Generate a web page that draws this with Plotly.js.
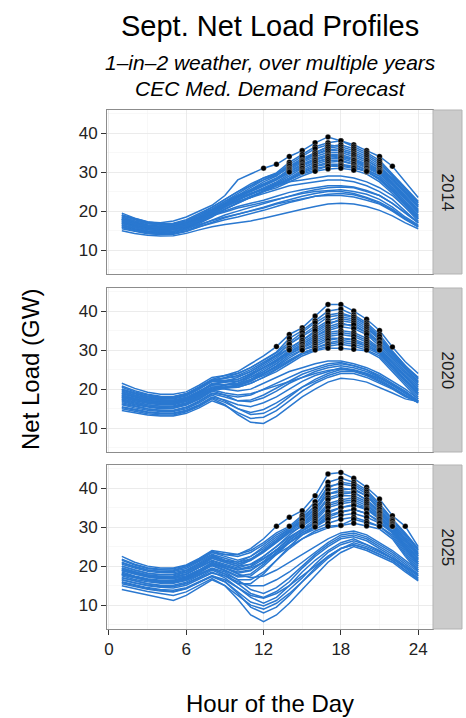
<!DOCTYPE html>
<html>
<head>
<meta charset="utf-8">
<script src="https://cdn.plot.ly/plotly-3.0.1.min.js"></script>
<style>html,body{margin:0;padding:0;background:#fff;}#chart{width:466px;height:718px;}</style>
</head>
<body>
<div id="chart"></div>
<script>
// Hour of the day (x values)
const hours = [1,2,3,4,5,6,7,8,9,10,11,12,13,14,15,16,17,18,19,20,21,22,23,24];

// Facet labels
const years = ["2014", "2020", "2025"];

// Net load (GW) daily profiles, 2014
const load2014 = [
  [19,18,17.2,17,17.5,18.5,20,21.5,24,28,29.5,31,32,34,35.5,37.5,39,38,37,35.5,34,31.5,27.5,23.5],
  [18.5,17.5,16.8,16.5,16.8,17.5,19,20.5,22.5,24.5,26.5,28.5,29.8,32.5,34.5,36.5,37.5,38,36.5,35,33,29.5,26,22.5],
  [18.8,17.8,17,16.7,16.9,17.8,19.3,21,23,25,27,28.5,29.6,31.5,33.5,35,36.5,37,36,34.5,32.5,29.2,25.8,22.2],
  [18,17,16.3,16,16.2,17,18.5,20,22,24,26,28,29.5,32,34,36,37,36.5,35.5,34,32,29,25.5,22],
  [17.5,16.5,15.8,15.5,15.8,16.5,18,20,22,24,25.5,27.5,29,31.5,33,35,36.5,36,35,33.5,31.5,28.5,25,21.5],
  [19.5,18.2,17.3,16.8,16.8,17.5,19,21,23,25,26.5,28,29.2,31,33,34.5,36,35.5,34.5,33,31,28.5,25,21.5],
  [17.2,16.3,15.6,15.3,15.5,16.3,17.8,19.8,21.8,23.8,25.2,26.8,28.2,30.8,32.8,34.5,35.5,35.5,34.5,33,31,28.2,24.8,21.2],
  [17,16,15.3,15,15.2,16,17.5,19.5,21.5,23.5,25.5,27,28.5,30.5,32.5,34,35,35,34,32.5,30.5,28,24.5,21],
  [18,17,16.2,15.8,16,16.8,18.2,20,22,23.5,25,26.5,28,30.2,32,33.5,34.5,34.5,33.5,32,30.5,27.5,24,20.5],
  [18.2,17.2,16.5,16.1,16.3,17.1,18.6,20.3,22.2,23.8,25.3,26.8,28.2,30,31.8,33.2,34.2,34.2,33.2,31.8,30.2,27.2,23.8,20.2],
  [16.5,15.5,14.8,14.5,14.8,15.7,17.2,19,21,23,24.5,26,27.5,29.5,31.5,33,34,34,33,31.5,30,27,23.5,20],
  [16.8,16,15.3,15,15.2,16,17.4,19.2,21.2,22.8,24.2,25.8,27.2,29,31,32.5,33.5,33.8,33,31.2,29.8,26.8,23.2,19.8],
  [19,17.8,17,16.5,16.5,17.2,18.5,20.5,22.5,24,25,26.5,28,29.8,31,32.5,33.5,33.5,32.5,31,29.5,26.5,23,19.5],
  [17.5,16.5,15.8,15.5,15.6,16.3,17.8,19.5,21.5,23,24.5,25.5,27,28.5,30.5,32,33,33,32,30.5,29,26,22.5,19],
  [17.8,16.9,16.2,15.9,16,16.7,18,19.8,21.5,23,24.3,25.5,26.8,28.2,30.2,31.5,32.5,32.8,32,30.5,29,26,22.3,18.8],
  [16,15.2,14.6,14.3,14.5,15.3,16.8,18.5,20.5,22,23.5,25,26.5,28,30,31.5,32,32,31.5,30,28.5,25.5,22,18.5],
  [16.3,15.5,14.9,14.6,14.8,15.6,17,18.8,20.6,22.2,23.8,25.3,26.6,28,29.8,31,31.5,31.8,31.2,30.2,28.2,25.2,21.8,18.2],
  [18.5,17.5,16.8,16.4,16.5,17.2,18.5,20,21.5,22.5,23.5,25,26.5,28,29.5,30.5,31.5,31.5,31,30.2,28,25,21.5,18],
  [17,16.2,15.5,15.2,15.3,16,17.5,19,20.5,22,23.5,25,26,27.5,29,30.2,30.8,31,30.5,29.5,27.5,24.5,21,17.5],
  [17,16,15.4,15,15.2,16,17.5,19.5,21.5,23.5,24.5,25.5,26.5,27.5,28,28.5,29,29,28.5,27.5,26,24,21,18],
  [18,17,16.3,16,16,16.8,18,19.5,21,22.5,23.5,24.5,25.5,26.5,27,27.5,28,28,27.5,26.5,25,23,20,17],
  [17.8,16.9,16.2,15.8,15.9,16.6,17.8,19,20.2,21.2,22,22.8,23.8,24.8,25.5,26,26.5,26.5,26.2,25.3,24,22,19.5,17.2],
  [16,15.2,14.5,14.2,14.3,15,16.3,17.8,19,20,21,22,23,24,24.8,25.5,26,26.2,26,25,24,22,19.5,17],
  [17.5,16.6,16,15.6,15.6,16.2,17.5,18.8,19.8,20.8,21.5,22.2,23,23.8,24.5,25,25.3,25.5,25,24.3,23,21,18.5,16.5],
  [15.5,14.8,14.2,14,14.1,14.8,16,17.2,18.3,19.2,20,21,22,23,23.8,24.5,25,25,24.5,23.5,22.3,20.5,18.2,16.2],
  [15.8,15,14.4,14.1,14.2,14.9,16,17,17.8,18.5,19.3,20.2,21.2,22.2,23,23.8,24.3,24.5,24.2,23.3,22,20.2,18,16],
  [16.5,15.7,15,14.7,14.8,15.5,16.6,17.6,18.5,19.2,20,20.8,21.8,22.5,23.2,23.8,24,24,23.6,22.8,21.8,20,17.8,16],
  [15,14.3,13.8,13.6,13.7,14.3,15.2,16,16.6,17,17.5,18.2,19,19.8,20.5,21.2,21.8,22,21.8,21.2,20.2,18.8,17,15.5]
];

// Net load (GW) daily profiles, 2020
const load2020 = [
  [20,19,18.2,17.8,18,18.8,20.5,22.5,23.5,24.5,26.5,28.5,30.9,34,35.7,38.7,41.7,41.7,40,37.9,35,30.8,27,24],
  [19.5,18.5,17.8,17.4,17.5,18.3,20,22,23,24,25.5,27.5,29.5,33,35,37.5,40,40.5,39,37,34,29.8,26,23],
  [21.5,20.2,19.2,18.7,18.7,19.3,21,23,23.5,24,25.5,27.5,29.3,32,34.5,37,39,39.5,38.5,36.5,33,29.5,26,22.5],
  [19.8,18.8,18,17.6,17.7,18.5,20.2,22.2,22.8,23.5,25,27,28.8,31.5,33.8,36,38.5,39,38.5,36.5,33.5,29.3,25.8,22.8],
  [18.5,17.5,16.8,16.5,16.6,17.4,19,21,22,23,24.5,26.5,28.5,31.5,33.5,35.5,37.5,38.5,38,36,32.5,29,25.5,22],
  [18.8,17.9,17.1,16.7,16.8,17.6,19.2,21.2,21.8,22.5,24,26,28,30.5,32.5,34.5,36.5,38,37.5,35.5,32.8,28.8,25.2,21.8],
  [20.5,19.3,18.5,18,18,18.8,20.5,22.5,22.8,23.2,24.5,26.5,28.5,30.5,32.5,35,37,37.5,37,35,32,28.5,25,21.5],
  [17.5,16.7,16,15.6,15.7,16.5,18,20,21,22,23.5,25.5,27.5,30,32,34,36,37,36,34.5,31.5,28,24.5,21],
  [20.8,19.6,18.7,18.2,18.1,18.8,20.5,22.3,22.3,22.5,23.8,25.5,27.2,29.5,31.5,33.5,35.5,36.5,36.5,34.5,31.8,28,24.5,21],
  [19,18,17.2,16.8,16.8,17.6,19.3,21.5,21.8,22,23.5,25.5,27.5,29.5,31.5,33.5,35,36,35.5,34,31,27.5,24,20.5],
  [18,17.2,16.5,16.2,16.2,17,18.5,20.5,21,21.5,23,25,27,29.5,31,33,34.5,35,34.5,33,30.5,27,23.5,20],
  [17.2,16.4,15.7,15.3,15.4,16.2,17.7,19.8,20.5,21,22.5,24.5,26.5,29,30.8,32.5,34,34.5,34,32.5,30.2,26.8,23.2,19.8],
  [20,19,18.2,17.7,17.6,18.3,20,22,22,22,23,24.5,26.5,29,30.5,32,33.5,34,33.5,32,30,26.5,23,19.5],
  [16.8,16,15.4,15,15.1,15.9,17.4,19.5,20.2,20.8,22,24,26,28.5,30,31.5,33,33,32.5,31,29.5,26,22.5,19],
  [18.2,17.4,16.7,16.3,16.3,17.1,18.6,20.3,20.6,21,22,23.8,25.8,28,30,31,32.5,33,32.8,31.5,29.7,26,22.3,19],
  [19.3,18.4,17.6,17.2,17.2,17.9,19.5,21.2,21.2,21.2,22.2,23.5,25.2,27.2,29.2,30.5,31.8,32.5,32,31,29.2,25.8,22.2,18.8],
  [19,18.1,17.4,17,17,17.8,19.3,21,21.2,21.5,22.5,24,25.5,27.5,29.3,30.5,31.5,32,31.5,30.5,29,25.5,22,18.5],
  [17.8,17,16.4,16,16,16.8,18.3,20,20.2,20.5,21.5,23,25,27,29,30,31,31.5,31,30,28.5,25,21.5,18],
  [18.5,17.6,16.9,16.5,16.5,17.3,18.8,20.5,20.5,20.5,21.5,23,24.5,26.5,28.5,29.8,30.5,30.5,30.2,29.8,28,24.5,21,17.5],
  [18,17.2,16.5,16.2,16.2,17,18.5,20.5,20,19.5,20,21.5,23,24.5,25.5,26.5,27.2,27.2,26.5,25.5,24,22,20,17.5],
  [16.5,15.7,15,14.6,14.6,15.4,17,19,18.5,18,18.5,20,21.5,23,24.5,25.5,26.5,26.8,26,25,23.5,21.5,19.5,17],
  [16.2,15.5,14.9,14.5,14.5,15.3,16.8,18.8,18,17,17.2,18.5,20.2,22,23.8,25,26,26.5,26,25,23.2,21.2,19.2,17],
  [17,16.2,15.6,15.2,15.2,16,17.6,19.5,18.5,17,16.8,17.8,19.5,21.5,23,24.5,25.5,26,25.5,24.5,23,21,19,16.8],
  [15.5,14.8,14.2,13.9,13.9,14.6,16,18,17.2,16,15.5,16.5,18,20,22,23.5,24.5,25.5,25,24,22.5,20.5,18.5,16.5],
  [15.3,14.6,14,13.7,13.7,14.4,15.8,17.8,16.6,15,13.5,13.8,15.5,18,20.5,22.5,24,25,24.8,23.8,22.2,20.2,18.2,16.6],
  [16,15.2,14.6,14.3,14.3,15,16.5,18.5,17,15,14,14.8,16.5,18.5,20.5,22,23.5,24.5,24.5,23.5,22,20.3,18.3,16.6],
  [14.5,13.9,13.4,13.1,13.1,13.8,15.2,17,15.8,14,12.5,12.8,14.5,17,19.5,21.5,23,24,24,23,21.5,20,18,16.8],
  [15,14.3,13.7,13.4,13.4,14.2,15.6,17.5,16,13.5,11.5,11.2,13,15.5,18,20,21.8,22.8,22.5,21.8,20.5,19,17.5,16.8],
  [17.5,16.7,16,15.6,15.6,16.4,18,19.8,19,18.5,18.8,19.8,21,22,23,24,24.8,25.2,24.8,24,22.8,21,19.2,17]
];

// Net load (GW) daily profiles, 2025
const load2025 = [
  [21,19.8,19,18.6,18.8,19.8,21.5,23.5,23,23,24.5,27,30.2,32.5,34.2,38,43.6,44,42.5,40.2,37.2,32.9,30.2,25],
  [22.5,21,20,19.5,19.5,20.3,22,24,23.5,23,24,26,28.5,30.2,33,36.5,41.5,42.5,41.5,39.5,36,32,28.5,24.5],
  [21.8,20.5,19.6,19.2,19.3,20.1,21.8,23.8,23,22.5,23.5,25.5,28,29.8,32.5,35.5,40,41.5,41,39,35.5,31.8,28.2,24.2],
  [20,19,18.2,17.8,17.9,18.8,20.5,22.5,21.5,21,22.5,25,27.5,29.5,32,35.5,40.5,41,40.5,38.5,35,31.5,28,24],
  [19,18,17.3,16.9,17,18,19.8,22,21,20,21.5,24,26.5,29,31.5,34.5,39.5,40,39.5,38,34.5,31,27.5,23.5],
  [19.5,18.5,17.8,17.4,17.5,18.4,20.2,22.3,21.3,20.5,21.8,24,26.5,29.2,31.8,34.8,38.5,39.5,39.8,38,34.5,30.8,27,23.2],
  [21.5,20.3,19.4,19,19,19.8,21.5,23.5,22.5,21.5,22.5,24.5,27,29.5,31,34,38.5,39,39,37,34,30.5,27,23],
  [20.8,19.8,19,18.6,18.6,19.4,21.2,23,22,21,21.8,23.8,26.2,28.8,30.8,33.5,37.5,38.5,38.8,37,33.8,30.2,26.5,22.6],
  [18.5,17.5,16.8,16.4,16.4,17.3,19,21,20,19,20,22.5,25,28,30.5,33,37,38,38,36.5,33.5,30.2,26.5,22.5],
  [20.5,19.5,18.7,18.3,18.3,19,20.8,22.8,21.5,20.5,21.5,23.5,26,28.5,30.2,32.5,36,37,37.5,36,33,29.8,26,22],
  [18.2,17.3,16.6,16.2,16.2,17.1,18.8,20.8,19.6,18.2,18.8,21.2,24.2,27.2,29.5,32,35.5,36.5,37,35.5,32.8,29.6,25.5,21.8],
  [17.5,16.6,16,15.6,15.7,16.6,18.3,20.3,19,17.5,18,20.5,23.5,26.5,29,31.5,35,36,36.5,35,32.5,29.5,25.5,21.5],
  [19.2,18.3,17.5,17.1,17.1,17.9,19.6,21.3,20.2,19.2,19.8,21.8,24.2,26.8,29,30.8,33.5,35,35.8,34.8,32.2,29.4,25,21],
  [19.5,18.5,17.7,17.3,17.3,18,19.8,21.5,20.5,19.5,20.5,22.5,25,27.5,29.5,31,34,35,35.5,34.5,32,29.3,25,21],
  [18,17.2,16.5,16.1,16.1,16.9,18.5,20.5,19.5,18.5,19,21,23.5,26,28.5,30.3,33,34,34.5,33.5,31.5,29,24.5,20.5],
  [17.8,17,16.3,15.9,15.9,16.7,18.3,20.1,18.8,17.2,17.5,20,23,26,28.5,30.2,32.5,33.8,34.5,33.5,31.2,28.8,24.5,20.5],
  [16.5,15.7,15.1,14.7,14.8,15.6,17.2,19,17.5,15.5,15.5,18,21.5,25,28,30,32,33,33.5,32.5,31,28.5,24,20],
  [20,19,18.2,17.8,17.8,18.5,20.2,22,21,20,20.5,22,24,26,28,29.5,31,32,32.5,31.5,30.2,28,23.5,19.5],
  [17,16.2,15.5,15.1,15.1,15.9,17.5,19.3,18,16.5,16.5,18.5,21.5,24.5,27,29,30.2,30.5,32,31,30.2,27.5,23,19],
  [18.8,17.9,17.2,16.8,16.8,17.5,19,20.8,19.8,19,19.5,21,23,25,27,28.5,29.8,30.4,31,30.3,29.5,27,22.5,18.5],
  [19,18.2,17.5,17,16.8,17.5,19,20.5,19.5,18,17,17.5,19,21,23,25,27,28.5,29,28,26,24,21.5,19],
  [16.5,15.7,15,14.6,14.4,15.1,16.7,18.2,17.5,16,15,15,16.5,18.5,21,23.5,26,28,28.5,27.5,25.5,23.5,21,18.5],
  [18,17.2,16.5,16,15.8,16.5,18,19.5,18.5,16.5,14,13,14.5,17,20,23,25.5,27.5,28,27,25,23,20.5,18],
  [17.8,17,16.3,15.8,15.6,16.3,17.8,19.3,18,15.5,13,12,13.5,16,19.5,22.5,25,27,27.5,26.5,24.5,22.5,20,17.8],
  [17,16.2,15.5,15,14.8,15.5,17,18.5,17,14.5,12,10.5,12,15,18.5,21.5,24,26,27,25.5,24,22,19.5,17],
  [15.8,15,14.3,13.8,13.5,14.3,15.8,17.3,16,13.5,10.8,9.8,11.2,14,17,20.5,23.5,25.5,26.5,25.5,23.8,22,19.8,17.5],
  [16,15.2,14.5,14,13.8,14.5,16,17.5,16,13,9.5,8,9.5,12.5,16,19.5,22.5,24.5,25.5,24.5,23,21.5,19,16.5],
  [15.5,14.8,14.1,13.6,13.4,14.2,15.8,17.5,16.5,14.5,12.5,11.8,13,15,17.5,20,22.5,24.5,25.5,24.5,23,21.5,19,16.8],
  [14,13.3,12.5,11.8,11.2,12.5,14.5,16.5,15,12.5,10,9,10.5,13,16,19,22,24.5,26,25,23.5,22,20,17.5],
  [15,14.2,13.5,13,12.5,13.4,15,16.8,15,11.5,7.5,5.8,7.5,10.5,14,17.5,21,23.5,25,24,22.5,21,18.5,16.2]
];

// Peak-hour threshold for highlighted points (GW)
const peakThreshold = 30;

const panels = [load2014, load2020, load2025];
const lineColor = "#2a78d0";
const FONT = '"Liberation Sans", Arial, Helvetica, sans-serif';

const traces = [];
panels.forEach((lines, p) => {
  const xa = "x" + (p + 1), ya = "y" + (p + 1);
  lines.forEach(vals => {
    traces.push({
      x: hours, y: vals, xaxis: xa, yaxis: ya, type: "scatter", mode: "lines",
      line: {color: lineColor, width: 1.5}, hoverinfo: "skip", showlegend: false
    });
  });
  const px = [], py = [];
  lines.forEach(vals => {
    vals.forEach((v, i) => { if (v >= peakThreshold) { px.push(hours[i]); py.push(v); } });
  });
  traces.push({
    x: px, y: py, xaxis: xa, yaxis: ya, type: "scatter", mode: "markers",
    marker: {color: "#000", size: 5.5, line: {color: "#fff", width: 0.25}},
    hoverinfo: "skip", showlegend: false
  });
});

const H = 519; // plot-area height in px
const domains = [[(629-274)/H, 1], [(629-452)/H, (629-288)/H], [0, 164/H]];

const layout = {
  width: 466, height: 718,
  margin: {l: 107, r: 33, t: 110, b: 89},
  paper_bgcolor: "#fff", plot_bgcolor: "#fff",
  font: {family: FONT, color: "#222"},
  showlegend: false,
  shapes: [], annotations: []
};

for (let p = 0; p < 3; p++) {
  const n = p + 1;
  const xk = n === 1 ? "xaxis" : "xaxis" + n;
  const yk = n === 1 ? "yaxis" : "yaxis" + n;
  const bottom = p === 2;
  layout[xk] = {
    domain: [0, 1], anchor: "y" + n, range: [-0.15, 25.15],
    tickmode: "linear", tick0: 0, dtick: 6,
    showticklabels: bottom, ticks: bottom ? "outside" : "", ticklen: 5, tickcolor: "#333", tickwidth: 1,
    tickfont: {size: 17, color: "#222"},
    showgrid: true, gridcolor: "#e6e6e6", gridwidth: 0.8,
    minor: {dtick: 3, tick0: 0, showgrid: true, gridcolor: "#f4f4f4", gridwidth: 0.6},
    showline: true, mirror: true, linecolor: "#8c8c8c", linewidth: 1,
    zeroline: false, fixedrange: true
  };
  if (p > 0) layout[xk].matches = "x";
  layout[yk] = {
    domain: domains[p], anchor: "x" + n, range: [3.9, 45.9],
    tickmode: "array", tickvals: [10, 20, 30, 40], ticktext: ["10", "20", "30", "40"],
    ticks: "outside", ticklen: 5, tickcolor: "#333", tickwidth: 1,
    tickfont: {size: 17, color: "#222"},
    showgrid: true, gridcolor: "#e6e6e6", gridwidth: 0.8,
    minor: {tickvals: [5, 15, 25, 35, 45], showgrid: true, gridcolor: "#f4f4f4", gridwidth: 0.6},
    showline: true, mirror: true, linecolor: "#8c8c8c", linewidth: 1,
    zeroline: false, fixedrange: true
  };
  // facet strip
  layout.shapes.push({
    type: "rect", xref: "paper", yref: "paper",
    x0: 1, x1: 1 + 29/326, y0: domains[p][0], y1: domains[p][1],
    fillcolor: "#cccccc", line: {color: "#b3b3b3", width: 1}, layer: "above"
  });
  layout.annotations.push({
    xref: "paper", yref: "paper", x: 1 + 14.5/326, y: (domains[p][0] + domains[p][1]) / 2,
    text: years[p], textangle: 90, showarrow: false,
    font: {size: 17, color: "#1a1a1a", family: FONT}, xanchor: "center", yanchor: "middle"
  });
}

layout.annotations.push(
  {xref: "paper", yref: "paper", x: 0.5, y: (629-26)/H, text: "Sept. Net Load Profiles",
   showarrow: false, xanchor: "center", yanchor: "middle", font: {size: 29, color: "#000", family: FONT}},
  {xref: "paper", yref: "paper", x: 0.5, y: (629-62)/H, text: "<i>1–in–2 weather, over multiple years</i>",
   showarrow: false, xanchor: "center", yanchor: "middle", font: {size: 21, color: "#000", family: FONT}},
  {xref: "paper", yref: "paper", x: 0.5, y: (629-88)/H, text: "<i>CEC Med. Demand Forecast</i>",
   showarrow: false, xanchor: "center", yanchor: "middle", font: {size: 21, color: "#000", family: FONT}},
  {xref: "paper", yref: "paper", x: (30-107)/326, y: (629-370)/H, text: "Net Load (GW)", textangle: -90,
   showarrow: false, xanchor: "center", yanchor: "middle", font: {size: 24, color: "#000", family: FONT}},
  {xref: "paper", yref: "paper", x: (270-107)/326, y: (629-703)/H, text: "Hour of the Day",
   showarrow: false, xanchor: "center", yanchor: "middle", font: {size: 24, color: "#000", family: FONT}}
);

Plotly.newPlot("chart", traces, layout, {displayModeBar: false, staticPlot: true});
</script>
</body>
</html>
